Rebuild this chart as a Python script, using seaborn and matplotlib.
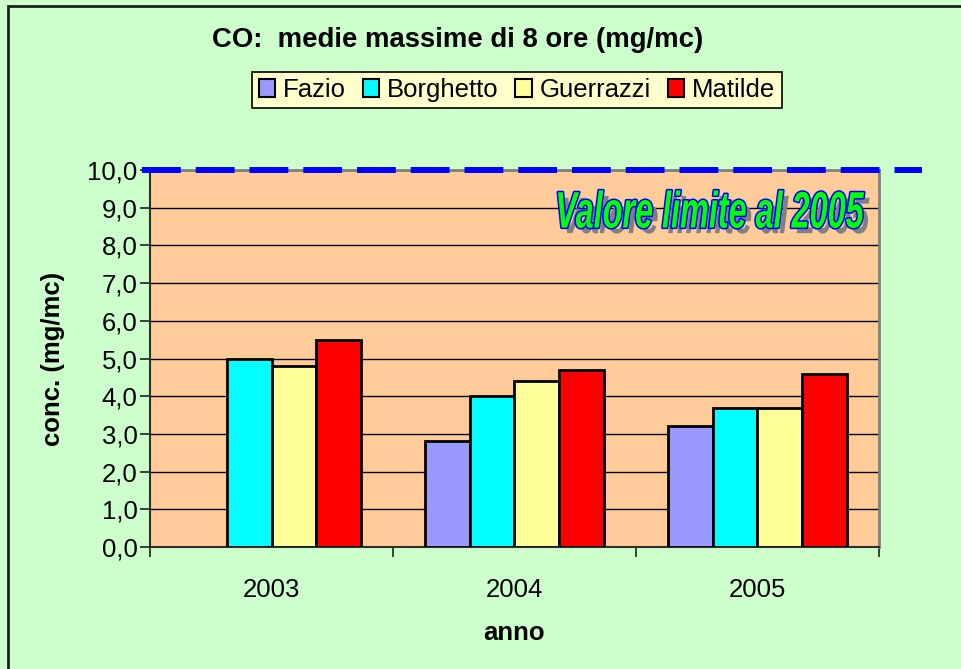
import matplotlib
matplotlib.use("Agg")
import matplotlib.pyplot as plt
import matplotlib.patheffects as pe
from matplotlib.patches import Rectangle, Patch
from matplotlib.ticker import FuncFormatter, FixedLocator
from matplotlib.transforms import Affine2D
import numpy as np
import pandas as pd
import seaborn as sns

years = ["2003", "2004", "2005"]
stations = ["Fazio", "Borghetto", "Guerrazzi", "Matilde"]
fazio = [np.nan, 2.8, 3.2]
borghetto = [5.0, 4.0, 3.7]
guerrazzi = [4.8, 4.4, 3.7]
matilde = [5.5, 4.7, 4.6]
limit_value = 10.0
colors = ["#9999FF", "#00FFFF", "#FFFF99", "#FF0000"]

title = "CO:  medie massime di 8 ore (mg/mc)"
ylabel = "conc. (mg/mc)"
xlabel = "anno"
limit_text = "Valore limite al 2005"

rows = []
for name, vals in zip(stations, [fazio, borghetto, guerrazzi, matilde]):
    for y, v in zip(years, vals):
        rows.append({"anno": y, "stazione": name, "valore": v})
df = pd.DataFrame(rows)

sns.set_theme(style="white")
plt.rcParams["font.family"] = ["Liberation Sans", "DejaVu Sans"]
for k in ["text.color", "axes.labelcolor", "xtick.color", "ytick.color"]:
    plt.rcParams[k] = "black"

W, H = 961, 669
fig = plt.figure(figsize=(W / 100, H / 100), dpi=100)
fig.patch.set_facecolor("#CCFFCC")
ax = fig.add_axes([150 / W, 1 - 547 / H, (879 - 150) / W, (547 - 170) / H])
ax.set_facecolor("#FFCC99")

sns.barplot(data=df, x="anno", y="valore", hue="stazione", order=years,
            hue_order=stations, palette=colors, width=0.735, dodge=True,
            edgecolor="black", linewidth=2.0, errorbar=None, legend=False,
            ax=ax, zorder=3, saturation=1)

ax.set_ylim(0, 10)
ax.set_xlim(-0.5, 2.5)
ax.yaxis.set_major_locator(FixedLocator(np.arange(0, 11, 1)))
ax.yaxis.set_major_formatter(FuncFormatter(lambda v, p: f"{v:.1f}".replace(".", ",")))
ax.grid(axis="y", color="black", linewidth=1.0, zorder=0)
ax.set_axisbelow(True)

# x ticks at category boundaries, labels at centers
ax.set_xticks([-0.5, 0.5, 1.5, 2.5])
ax.set_xticklabels([])
ax.set_xticks([0, 1, 2], minor=True)
ax.set_xticklabels(years, minor=True)
ax.tick_params(axis="x", which="minor", length=0, pad=22, labelsize=18.5, labelcolor="black")
ax.tick_params(axis="x", which="major", length=7, width=1.2, color="#202020", direction="out", bottom=True)
ax.tick_params(axis="y", length=7, width=1.2, color="#202020", direction="out", left=True,
               labelsize=18.5, pad=2, labelcolor="black")

for side in ["top", "right"]:
    ax.spines[side].set_color("#808080")
    ax.spines[side].set_linewidth(2.0)
for side in ["left", "bottom"]:
    ax.spines[side].set_color("#303030")
    ax.spines[side].set_linewidth(1.5)

ax.set_xlabel(xlabel, fontsize=18.5, fontweight="bold", labelpad=14, color="black")
ax.set_ylabel(ylabel, fontsize=18.5, fontweight="bold", labelpad=16, color="black")

# limit line
ln, = ax.plot([-(150 - 142) / 729, (922 - 150) / 729], [limit_value, limit_value],
              transform=ax.get_yaxis_transform(), color="#0000FF", linewidth=4.3,
              clip_on=False, zorder=5, solid_capstyle="butt", dash_capstyle="butt")
ln.set_dashes((6.5, 2.5))


class Squeeze(pe.AbstractPathEffect):
    """Compress glyphs horizontally about an anchor x (display coords)."""
    def __init__(self, sx, x0_func, inner):
        super().__init__()
        self.sx = sx
        self.x0_func = x0_func
        self.inner = inner

    def draw_path(self, renderer, gc, tpath, affine, rgbFace=None):
        x0 = self.x0_func()
        aff = affine + Affine2D().translate(-x0, 0).scale(self.sx, 1).translate(x0, 0)
        self.inner.draw_path(renderer, gc, tpath, aff, rgbFace)


anchor = (0.979, 0.883)
sx = 0.63
x0f = lambda: ax.transAxes.transform(anchor)[0]
effects = [
    Squeeze(sx, x0f, pe.withSimplePatchShadow(offset=(4, -4), shadow_rgbFace="#808080", alpha=1.0)),
    Squeeze(sx, x0f, pe.Stroke(linewidth=2.2, foreground="#0000FF")),
    Squeeze(sx, x0f, pe.Normal()),
]
ax.text(anchor[0], anchor[1], limit_text, transform=ax.transAxes, ha="right", va="center",
        fontsize=37, fontweight="bold", fontstyle="italic", color="#00FF00",
        zorder=6, path_effects=effects)

# title
fig.text(458 / W, 1 - 40 / H, title, ha="center", va="center", fontsize=19.8,
         fontweight="bold", color="black")

# legend
handles = [Patch(facecolor=c, edgecolor="black", linewidth=1.5) for c in colors]
leg = fig.legend(handles, stations, loc="center", bbox_to_anchor=(517 / W, 1 - 90 / H),
                 ncol=4, fontsize=18.5, frameon=True, fancybox=False, handlelength=0.65,
                 handleheight=0.65, handletextpad=0.3, columnspacing=0.65, borderpad=0.25,
                 borderaxespad=0)
leg.get_frame().set_facecolor("#FFFFCC")
leg.get_frame().set_edgecolor("black")
leg.get_frame().set_linewidth(1.2)
leg.get_frame().set_alpha(1)
for t in leg.get_texts():
    t.set_color("black")

# outer chart border
fig.patches.append(Rectangle((8 / W, -0.05), 1.1, 1 - 6 / H + 0.05, transform=fig.transFigure,
                             fill=False, edgecolor="#202020", linewidth=2.0, zorder=0))

fig.savefig("out.png", dpi=100, facecolor=fig.get_facecolor())
